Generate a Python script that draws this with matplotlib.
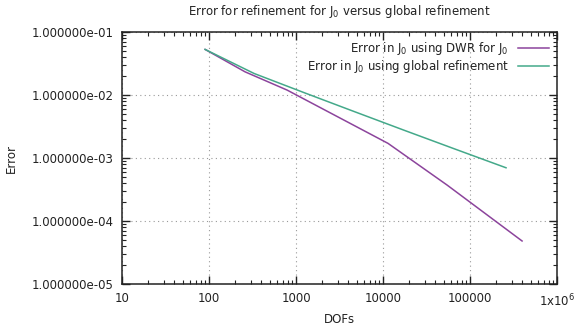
import matplotlib
matplotlib.use("Agg")
import matplotlib.pyplot as plt
from matplotlib.ticker import FuncFormatter, LogLocator, NullFormatter

# DWR-driven adaptive refinement
dwr_dofs = [90, 259, 789, 11400, 54500, 396000]
dwr_error = [0.0531, 0.0234, 0.0120, 0.00171, 0.000372, 0.0000482]

# uniform (global) refinement
glob_dofs = [90, 330, 1230, 4600, 17500, 68000, 259000]
glob_error = [0.0531, 0.0220, 0.01096, 0.00551, 0.00276, 0.00138, 0.000701]

x_ticks = [10, 100, 1000, 10000, 100000, 1000000]
x_labels = ["10", "100", "1000", "10000", "100000", r"1x10$^{6}$"]
y_ticks = [1e-5, 1e-4, 1e-3, 1e-2, 1e-1]

plt.rcParams.update({"font.size": 8.5, "text.color": "#222222",
                     "axes.labelcolor": "#222222",
                     "xtick.color": "#222222", "ytick.color": "#222222"})

fig = plt.figure(figsize=(5.87, 3.31), dpi=100)
ax = fig.add_axes([0.208, 0.142, 0.741, 0.761])

ax.plot(dwr_dofs, dwr_error, color="#8c449c", lw=1.1,
        label=r"Error in J$_{\mathrm{0}}$ using DWR for J$_{\mathrm{0}}$")
ax.plot(glob_dofs, glob_error, color="#44a98a", lw=1.1,
        label=r"Error in J$_{\mathrm{0}}$ using global refinement")

ax.set_xscale("log")
ax.set_yscale("log")
ax.set_xlim(10, 1e6)
ax.set_ylim(1e-5, 1e-1)

ax.set_xticks(x_ticks)
ax.set_xticklabels(x_labels)
ax.set_yticks(y_ticks)
ax.yaxis.set_major_formatter(FuncFormatter(lambda v, p: f"{v:.6e}"))
for axis in (ax.xaxis, ax.yaxis):
    axis.set_minor_locator(LogLocator(base=10, subs=range(2, 10), numticks=20))
    axis.set_minor_formatter(NullFormatter())

ax.tick_params(which="both", direction="in", top=True, right=True)
ax.tick_params(which="major", length=6, width=1.0, pad=6)
ax.tick_params(which="minor", length=3, width=0.8)
ax.grid(True, which="major", linestyle=(0, (1, 3)), color="#999999", lw=0.8)
for s in ax.spines.values():
    s.set_linewidth(1.1)
    s.set_color("#222222")

ax.set_title(r"Error for refinement for J$_{\mathrm{0}}$ versus global refinement",
             fontsize=8.5, pad=12)
ax.set_xlabel("DOFs", labelpad=3)
ax.set_ylabel("Error", labelpad=10)

leg = ax.legend(loc="upper right", frameon=False, markerfirst=False,
                handlelength=2.6, borderaxespad=0.3, labelspacing=0.05)
for t in leg.get_texts():
    t.set_ha("right")

fig.savefig("out.png", dpi=100, facecolor="white")
